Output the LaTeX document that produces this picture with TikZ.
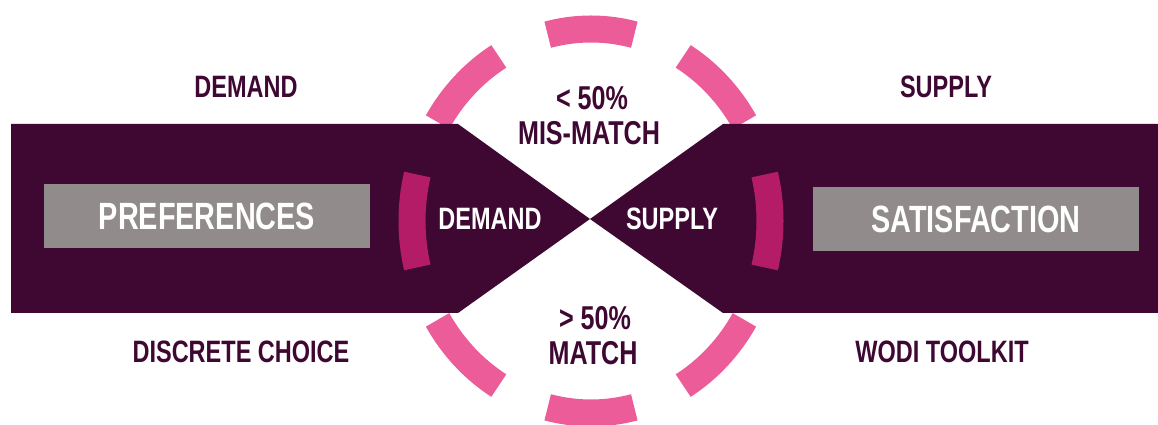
\documentclass[tikz,border=0pt]{standalone}
\definecolor{wodiplum}{RGB}{62, 8, 50}
\definecolor{wodipink}{RGB}{236, 92, 152}
\definecolor{wodimagenta}{RGB}{181, 28, 104}
\definecolor{wodigrey}{RGB}{145, 139, 139}
\usepackage{fontspec}
\newfontfamily\wodifont{Liberation Sans}[FakeStretch=0.76]
\usepackage{tikz}
\usetikzlibrary{positioning, calc}

\begin{document}
\begin{tikzpicture}[x=0.025cm, y=-0.025cm, font=\wodifont\bfseries\fontsize{22}{26}\selectfont,
    outer/.style={text=wodiplum, anchor=base},
    share/.style={outer, font=\wodifont\bfseries\fontsize{23.5}{26}\selectfont},
    inner/.style={text=white, anchor=base},
    greybox/.style={rectangle, fill=wodigrey, text=white, minimum width=8.13cm, minimum height=1.6cm, font=\wodifont\bfseries\fontsize{27}{30}\selectfont},
    ring/.style={line width=0.675cm, draw=wodipink},
    innerring/.style={line width=0.675cm, draw=wodimagenta},
]
\useasboundingbox (0, 0) rectangle (1158, 425);
\coordinate (c) at (591, 221);
% broken ring behind the bow tie
\foreach \a in {45, 90, 135, 225, 270, 315}
  \draw[ring] (c) ++(\a-14:179 and 192) arc[start angle=\a-14, end angle=\a+14, x radius=179, y radius=192];
\fill[wodiplum] (11, 124) -- (458, 124) -- (590, 219) -- (458, 313) -- (11, 313) -- cycle;
\fill[wodiplum] (1158, 124) -- (723, 124) -- (590, 219) -- (723, 313) -- (1158, 313) -- cycle;
\foreach \a in {0, 180}
  \draw[innerring] (c) ++(\a-14:179 and 192) arc[start angle=\a-14, end angle=\a+14, x radius=179, y radius=192];
\node[greybox] (pref) at (207, 216) {PREFERENCES};
\node[greybox] (sat) at (976, 219) {SATISFACTION};
\node[inner] (dem) at (490, 230) {DEMAND};
\node[inner] (sup) at (672, 230) {SUPPLY};
\node[outer] (demtop) at (246, 98) {DEMAND};
\node[outer] (suptop) at (946, 98) {SUPPLY};
\node[outer] (dc) at (241, 363) {DISCRETE CHOICE};
\node[outer] (wodi) at (942, 363) {WODI TOOLKIT};
\node[share] (lt) at (592, 110) {< 50\%};
\node[share] (mis) at (589, 145) {MIS-MATCH};
\node[share] (gt) at (595, 330) {> 50\%};
\node[share] (match) at (593, 365) {MATCH};
\end{tikzpicture}
\end{document}
